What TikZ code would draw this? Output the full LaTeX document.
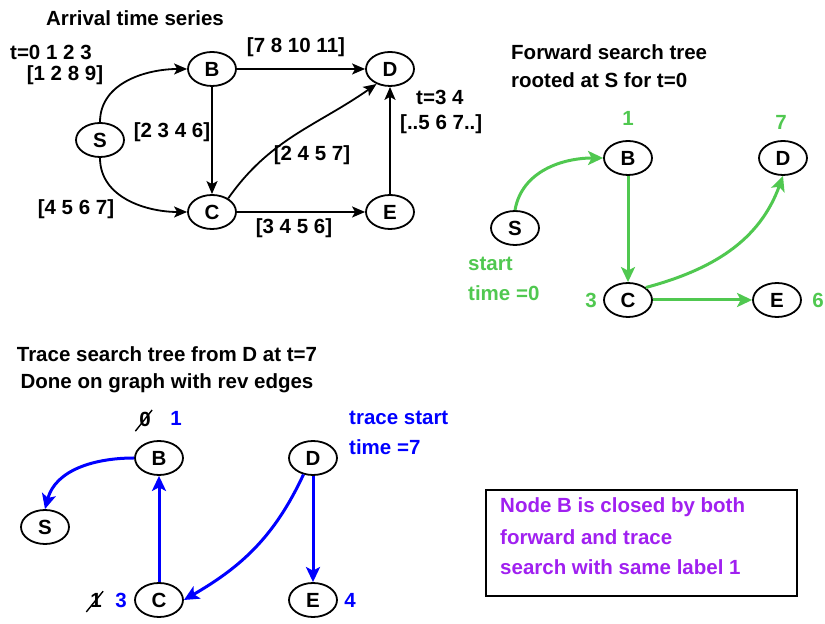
\documentclass[tikz,border=0pt]{standalone}
\usepackage{fontspec}
\setmainfont{Liberation Sans}
\usetikzlibrary{arrows.meta,positioning,shapes.geometric}
\definecolor{tsGreen}{HTML}{50C850}
\definecolor{tsBlue}{HTML}{0000FF}
\definecolor{tsPurple}{HTML}{A020F0}

\begin{document}
\begin{tikzpicture}[x=1bp,y=1bp,
  font=\fontsize{20.5bp}{24bp}\selectfont\bfseries,
  vtx/.style={draw,ellipse,line width=1.8bp,minimum width=48bp,
    minimum height=34bp,inner sep=0pt},
  txt/.style={inner sep=0pt},
  edge/.style={line width=1.8bp,-{Stealth[length=13bp,width=11bp,inset=3bp]}},
  fwd/.style={tsGreen,line width=3bp,-{Stealth[length=15bp,width=14bp,inset=3.5bp]}},
  trc/.style={tsBlue,line width=3bp,-{Stealth[length=15bp,width=14bp,inset=3.5bp]}},
  strike/.style={txt,append after command={
    (\tikzlastnode.south west) edge[line width=1.4bp,shorten <=-6bp,shorten >=-2bp]
    (\tikzlastnode.north east)}}]
  \useasboundingbox (0,0) rectangle (825,624);

  % arrival time series
  \node[txt] (ttlA) at (135,606) {Arrival time series};
  \node[vtx] (S) at (100,484) {S};
  \node[vtx] (B) at (212,555) {B};
  \node[vtx] (D) at (390,555) {D};
  \node[vtx] (C) at (212,412) {C};
  \node[vtx] (E) at (390,412) {E};
  \draw[edge] (S.north) to[out=90,in=180] (B.west);
  \draw[edge] (S.south) to[out=-90,in=180] (C.west);
  \draw[edge] (B) -- (D);
  \draw[edge] (B) -- (C);
  \draw[edge] (C.40) to[out=55,in=215] (D.228);
  \draw[edge] (C) -- (E);
  \draw[edge] (E) -- (D);
  \node[txt,anchor=west] (tSB) at (10,572) {t=0 1 2 3};
  \node[txt] (lSB) at (65,549) {[1 2 8 9]};
  \node[txt] (lSC) at (76,415) {[4 5 6 7]};
  \node[txt] (lBD) at (296,577) {[7 8 10 11]};
  \node[txt] (lBC) at (172,492) {[2 3 4 6]};
  \node[txt] (lCD) at (312,469) {[2 4 5 7]};
  \node[txt] (lCE) at (294,396) {[3 4 5 6]};
  \node[txt,anchor=west] (tED) at (416,527) {t=3 4};
  \node[txt,anchor=west] (lED) at (400,500) {[..5 6 7..]};

  % forward search tree
  \node[txt,anchor=west] (ttlF1) at (511,572) {Forward search tree};
  \node[txt,anchor=west] (ttlF2) at (511,544) {rooted at S for t=0};
  \node[vtx] (fS) at (515,396) {S};
  \node[vtx] (fB) at (628,466) {B};
  \node[vtx] (fD) at (783,466) {D};
  \node[vtx] (fC) at (628,324) {C};
  \node[vtx] (fE) at (777,324) {E};
  \draw[fwd] (fS.north) to[out=80,in=180] (fB.west);
  \draw[fwd] (fB) -- (fC);
  \draw[fwd] (fC.35) to[out=15,in=250] (fD.south);
  \draw[fwd] (fC) -- (fE);
  \node[txt,tsGreen] (fnB) at (628,506) {1};
  \node[txt,tsGreen] (fnD) at (781,502) {7};
  \node[txt,tsGreen] (fnC) at (591,324) {3};
  \node[txt,tsGreen] (fnE) at (818,324) {6};
  \node[txt,tsGreen,anchor=west] (fst1) at (468,360) {start};
  \node[txt,tsGreen,anchor=west] (fst2) at (468,331) {time =0};

  % trace search tree
  \node[txt] (ttlT1) at (167,270) {Trace search tree from D at t=7};
  \node[txt] (ttlT2) at (167,241) {Done on graph with rev edges};
  \node[vtx] (tB) at (159,166) {B};
  \node[vtx] (tD) at (313,166) {D};
  \node[vtx] (tS) at (45,97) {S};
  \node[vtx] (tC) at (159,24) {C};
  \node[vtx] (tE) at (313,24) {E};
  \draw[trc] (tB.west) to[out=180,in=75] (tS.north);
  \draw[trc] (tC) -- (tB);
  \draw[trc] (tD.240) to[out=-115,in=30] (tC.east);
  \draw[trc] (tD) -- (tE);
  \node[strike] (oldB) at (145,205) {0};
  \node[txt,tsBlue] (tnB) at (176,206) {1};
  \node[strike] (oldC) at (96,24) {1};
  \node[txt,tsBlue] (tnC) at (121,24) {3};
  \node[txt,tsBlue] (tnE) at (350,24) {4};
  \node[txt,tsBlue,anchor=west] (tst1) at (349,206) {trace start};
  \node[txt,tsBlue,anchor=west] (tst2) at (349,177) {time =7};

  % note
  \draw[line width=2bp] (486,134) rectangle (797,28);
  \node[txt,tsPurple,anchor=west] (nt1) at (500,117) {Node B is closed by both};
  \node[txt,tsPurple,anchor=west] (nt2) at (500,87) {forward and trace};
  \node[txt,tsPurple,anchor=west] (nt3) at (500,57) {search with same label 1};
\end{tikzpicture}
\end{document}
